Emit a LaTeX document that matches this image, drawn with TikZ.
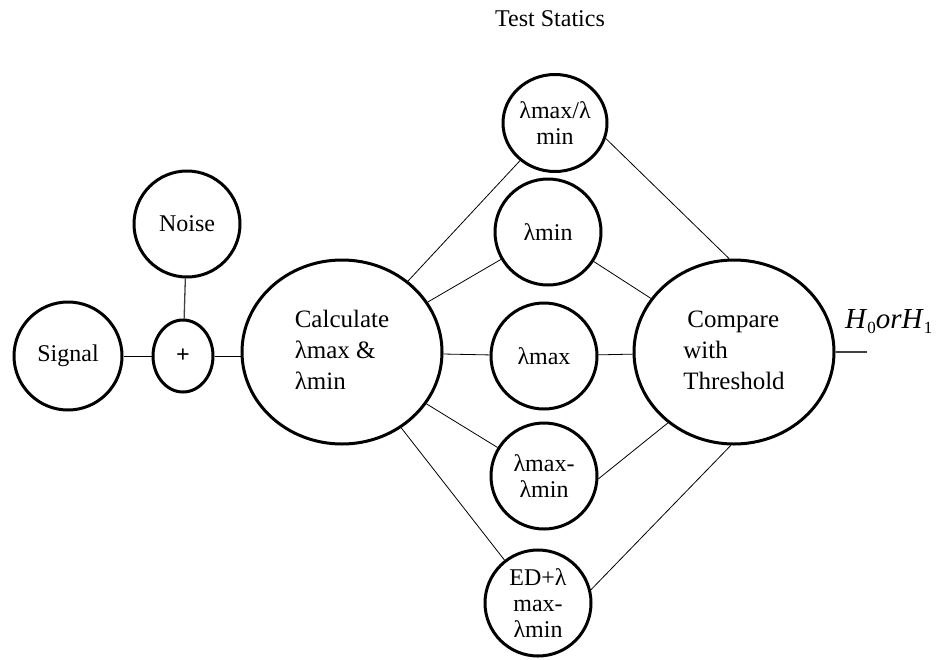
\documentclass[tikz,border=0pt]{standalone}
\usepackage{fontspec}
\setmainfont{Liberation Serif}
\usetikzlibrary{positioning, shapes.geometric}

\tikzset{
  blob/.style={draw, circle, line width=3pt, minimum size=106pt, inner sep=0pt, align=center,
    font=\fontsize{24}{26}\selectfont},
  bigblob/.style={draw, ellipse, line width=3pt, minimum width=200pt, minimum height=184pt, inner sep=0pt,
    font=\fontsize{25}{31}\selectfont},
  link/.style={line width=0.8pt},
  greylink/.style={line width=1.3pt, black!75}
}
\newcommand{\blobtext}[1]{\raisebox{9pt}{\begin{tabular}{@{}l@{}}#1\end{tabular}}}

\begin{document}
\begin{tikzpicture}[x=1pt, y=-1pt]
\useasboundingbox (0,0) rectangle (936,659);

% Input side
\node[blob, minimum size=108pt] (signal) at (68,356) {Signal};
\node[blob, ellipse, minimum size=0pt, minimum width=60pt, minimum height=72pt] (plus) at (183,356) {\textbf{+}};
\node[blob] (noise) at (187,224) {Noise};
\node[bigblob] (calc) at (342,352) {\blobtext{Calculate\\λmax \&\\λmin}};

% Test statistics
\node[font=\fontsize{24}{26}\selectfont] (title) at (550,19) {Test Statics};
\node[blob, ellipse, minimum size=0pt, minimum width=104pt, minimum height=97pt] (ratio) at (555,123) {λmax/λ\\min};
\node[blob] (lmin) at (548,232) {λmin};
\node[blob] (lmax) at (544,356) {λmax};
\node[blob] (diff) at (544,476) {λmax-\\λmin};
\node[blob] (edd) at (538,603) {ED+λ\\max-\\λmin};

% Decision
\node[bigblob] (cmp) at (734,352) {\blobtext{\,Compare\\with\\Threshold}};
\node[anchor=base west, inner sep=0pt, font=\fontsize{29}{30}\selectfont] (hyp) at (845,328)
  {\textit{H}\raisebox{-5pt}{\fontsize{17}{17}\selectfont 0}\textit{orH}\raisebox{-5pt}{\fontsize{17}{17}\selectfont 1}};
\coordinate (hypend) at (867,352);

% Connections
\draw[link] (signal) -- (plus);
\draw[link] (plus) -- (plus -| calc.west);
\draw[greylink] (noise) -- (plus);
\foreach \s in {ratio, lmin, lmax, diff, edd}
    \draw[link] (calc) -- (\s);
\draw[link] (ratio.-17) -- (cmp.93);
\draw[link] (lmin) -- (cmp);
\draw[link] (lmax) -- (cmp);
\draw[link] (diff.-3) -- (cmp.227);
\draw[link] (edd.14) -- (cmp.-92);
\draw[greylink] (cmp) -- (hypend);
\end{tikzpicture}
\end{document}
